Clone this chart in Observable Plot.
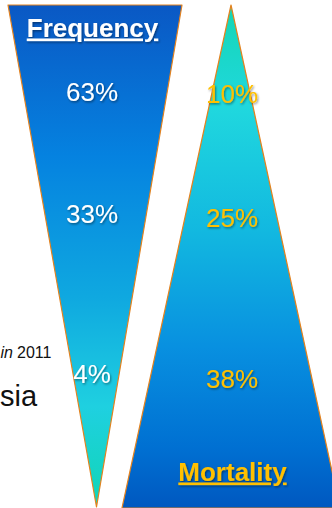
<!DOCTYPE html>
<html>
<head>
<meta charset="utf-8">
<script src="https://cdn.jsdelivr.net/npm/d3@7"></script>
<script src="https://cdn.jsdelivr.net/npm/@observablehq/plot@0.6"></script>
<style>
  html, body { margin: 0; padding: 0; background: #ffffff; }
  #chart { width: 332px; height: 508px; overflow: hidden; }
  svg { display: block; font-family: "Liberation Sans", Arial, sans-serif; }
</style>
</head>
<body>
<div id="chart"></div>
<script>
// ---- data ----
const tiers = ["top", "middle", "bottom"];
const frequency = [63, 33, 4];
const mortality = [10, 25, 38];
const titles = ["Frequency", "Mortality"];
const sideWords = ["in", "2011", "sia"];

// ---- layout (diagram units, 332 x 508) ----
const freqShapeY = [5, 507];
const freqShapeX1 = [8, 96.5];
const freqShapeX2 = [182, 96.5];
const mortShapeY = [5, 508];
const mortShapeX1 = [231, 122];
const mortShapeX2 = [231, 340];
const freqLabelX = 91.5, mortLabelX = 231.5;
const freqLabelY = [100, 222, 382];
const mortLabelY = [102, 226, 387];
const titleX = [92, 232];
const titleY = [36, 480];
const sideX = [0, 16.5, -0.5];
const sideY = [357, 357, 405];

const freqShape = freqShapeY.map((y, i) => ({y, x1: freqShapeX1[i], x2: freqShapeX2[i]}));
const mortShape = mortShapeY.map((y, i) => ({y, x1: mortShapeX1[i], x2: mortShapeX2[i]}));
const freqRows = tiers.map((t, i) => ({tier: t, value: frequency[i], y: freqLabelY[i]}));
const mortRows = tiers.map((t, i) => ({tier: t, value: mortality[i], y: mortLabelY[i]}));
const titleRows = titles.map((t, i) => ({t, x: titleX[i], y: titleY[i]}));
const sideRows = sideWords.map((t, i) => ({t, x: sideX[i], y: sideY[i]}));

const gold = "#FFC000";
const edge = "#E4821E";
const font = "Liberation Sans, Arial, sans-serif";

const svg = Plot.plot({
  width: 332,
  height: 508,
  margin: 0,
  style: {background: "transparent", overflow: "hidden"},
  x: {domain: [0, 332], range: [0, 332], axis: null},
  y: {domain: [0, 508], range: [0, 508], axis: null},
  marks: [
    Plot.areaX(freqShape, {y: "y", x1: "x1", x2: "x2", fill: "url(#gradFreq)", stroke: edge, strokeWidth: 1.2, curve: "linear"}),
    Plot.areaX(mortShape, {y: "y", x1: "x1", x2: "x2", fill: "url(#gradMort)", stroke: edge, strokeWidth: 1.2, curve: "linear"}),
    Plot.text(freqRows, {x: () => freqLabelX, y: "y", text: d => d.value + "%", fill: "white", fontSize: 26, fontFamily: font, lineAnchor: "bottom"}),
    Plot.text(mortRows, {x: () => mortLabelX, y: "y", text: d => d.value + "%", fill: gold, fontSize: 26, fontFamily: font, lineAnchor: "bottom"}),
    Plot.text(titleRows, {x: "x", y: "y", text: "t", fill: (d, i) => i === 0 ? "white" : gold, fontSize: 26, fontWeight: "bold", fontFamily: font, lineAnchor: "bottom"}),
    Plot.text(sideRows.slice(0, 1), {x: "x", y: "y", text: "t", fill: "#111", fontSize: 16, fontStyle: "italic", fontFamily: font, textAnchor: "start", lineAnchor: "bottom"}),
    Plot.text(sideRows.slice(1, 2), {x: "x", y: "y", text: "t", fill: "#111", fontSize: 16, fontFamily: font, textAnchor: "start", lineAnchor: "bottom"}),
    Plot.text(sideRows.slice(2, 3), {x: "x", y: "y", text: "t", fill: "#111", fontSize: 29, fontFamily: font, textAnchor: "start", lineAnchor: "bottom"})
  ]
});

// gradient + shadow definitions
const ns = "http://www.w3.org/2000/svg";
const defs = document.createElementNS(ns, "defs");
defs.innerHTML = `
  <linearGradient id="gradFreq" gradientUnits="userSpaceOnUse" x1="0" y1="5" x2="0" y2="507">
    <stop offset="0" stop-color="#0A58C4"/>
    <stop offset="0.3" stop-color="#0582E0"/>
    <stop offset="0.58" stop-color="#0FA8E0"/>
    <stop offset="0.8" stop-color="#1FD0E0"/>
    <stop offset="1" stop-color="#10D6B6"/>
  </linearGradient>
  <linearGradient id="gradMort" gradientUnits="userSpaceOnUse" x1="0" y1="5" x2="0" y2="508">
    <stop offset="0" stop-color="#14D6B4"/>
    <stop offset="0.2" stop-color="#20D8DE"/>
    <stop offset="0.45" stop-color="#12B8E0"/>
    <stop offset="0.68" stop-color="#0890E0"/>
    <stop offset="0.88" stop-color="#0070D2"/>
    <stop offset="1" stop-color="#0058C0"/>
  </linearGradient>
  <filter id="shadow" x="-10%" y="-20%" width="130%" height="150%">
    <feDropShadow dx="1" dy="1.3" stdDeviation="0.8" flood-color="#000" flood-opacity="0.45"/>
  </filter>`;
svg.insertBefore(defs, svg.firstChild);

svg.querySelectorAll("text").forEach(t => {
  const s = t.textContent;
  if (s.endsWith("%") || titles.includes(s)) t.setAttribute("filter", "url(#shadow)");
  if (titles.includes(s)) {
    t.style.textDecoration = "underline";
    t.style.textDecorationThickness = "3px";
    t.style.textUnderlineOffset = "3px";
  }
});

document.getElementById("chart").appendChild(svg);
</script>
</body>
</html>
